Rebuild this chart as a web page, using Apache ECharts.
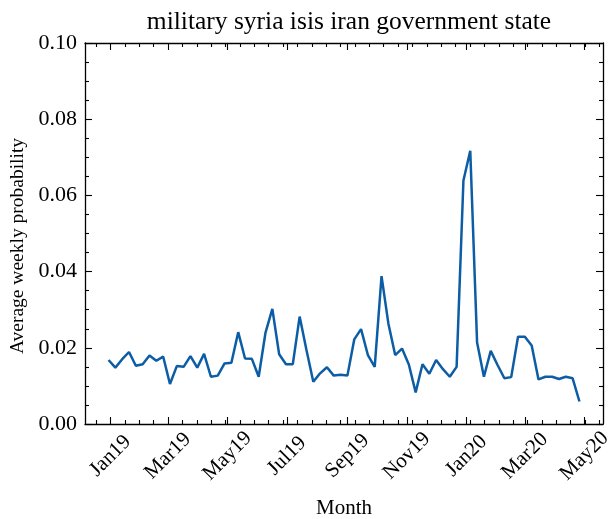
<!DOCTYPE html>
<html>
<head>
<meta charset="utf-8">
<script src="https://cdn.jsdelivr.net/npm/echarts@6/dist/echarts.min.js"></script>
<style>
  html, body { margin: 0; padding: 0; background: #fff; }
  #chart { width: 608px; height: 519px; }
</style>
</head>
<body>
<div id="chart"></div>
<script>
// weekly dates (week start)
var weeks = [
  '2018-12-30','2019-01-06','2019-01-13','2019-01-20','2019-01-27','2019-02-03','2019-02-10','2019-02-17','2019-02-24','2019-03-03',
  '2019-03-10','2019-03-17','2019-03-24','2019-03-31','2019-04-07','2019-04-14','2019-04-21','2019-04-28','2019-05-05','2019-05-12',
  '2019-05-19','2019-05-26','2019-06-02','2019-06-09','2019-06-16','2019-06-23','2019-06-30','2019-07-07','2019-07-14','2019-07-21',
  '2019-07-28','2019-08-04','2019-08-11','2019-08-18','2019-08-25','2019-09-01','2019-09-08','2019-09-15','2019-09-22','2019-09-29',
  '2019-10-06','2019-10-13','2019-10-20','2019-10-27','2019-11-03','2019-11-10','2019-11-17','2019-11-24','2019-12-01','2019-12-08',
  '2019-12-15','2019-12-22','2019-12-29','2020-01-05','2020-01-12','2020-01-19','2020-01-26','2020-02-02','2020-02-09','2020-02-16',
  '2020-02-23','2020-03-01','2020-03-08','2020-03-15','2020-03-22','2020-03-29','2020-04-05','2020-04-12','2020-04-19','2020-04-26'
];
// average weekly probability
var probs = [
  0.0168,0.0148,0.0170,0.0189,0.0153,0.0157,0.0180,0.0166,0.0177,0.0105,
  0.0152,0.0150,0.0178,0.0148,0.0184,0.0124,0.0127,0.0159,0.0161,0.0241,
  0.0172,0.0171,0.0124,0.0240,0.0302,0.0183,0.0157,0.0157,0.0282,0.0194,
  0.0111,0.0133,0.0149,0.0127,0.0129,0.0127,0.0222,0.0249,0.0181,0.0150,
  0.0388,0.0264,0.0181,0.0198,0.0156,0.0083,0.0157,0.0132,0.0168,0.0144,
  0.0124,0.0150,0.0639,0.0717,0.0214,0.0124,0.0192,0.0155,0.0120,0.0123,
  0.0229,0.0229,0.0206,0.0117,0.0124,0.0124,0.0118,0.0124,0.0120,0.0059
];
// major x ticks (month starts) and their labels
var monthTicks = ['2019-01-01','2019-03-01','2019-05-01','2019-07-01','2019-09-01','2019-11-01','2020-01-01','2020-03-01','2020-05-01'];
var monthLabels = ['Jan19','Mar19','May19','Jul19','Sep19','Nov19','Jan20','Mar20','May20'];

function ts(s) { var p = s.split('-'); return Date.UTC(+p[0], +p[1] - 1, +p[2]); }

var first = ts(weeks[0]), last = ts(weeks[weeks.length - 1]);
var pad = (last - first) * 0.05;
var xMin = first - pad, xMax = last + pad;

var majorVals = monthTicks.map(ts);
var labelOf = {};
majorVals.forEach(function (v, i) { labelOf[v] = monthLabels[i]; });

// minor ticks: major step split in 4, counted from first major
var minorStep = (majorVals[1] - majorVals[0]) / 4;
var minorVals = [];
for (var t = majorVals[0] - 10 * minorStep; t <= xMax; t += minorStep) {
  if (t >= xMin && majorVals.indexOf(Math.round(t)) < 0) minorVals.push(t);
}

var lineData = weeks.map(function (w, i) { return [ts(w), probs[i]]; });

var font = 'Liberation Serif';
var axisLine = { show: true, lineStyle: { color: '#000', width: 1.3 } };

function xAx(pos, vals, len, showLabel, main) {
  return {
    type: 'value', position: pos, min: xMin, max: xMax,
    axisLine: main ? axisLine : { show: false },
    splitLine: { show: false },
    axisTick: { show: true, inside: true, length: len, customValues: vals,
      lineStyle: { color: '#000', width: 1.1 } },
    axisLabel: showLabel ? {
      show: true, customValues: vals, rotate: 45, margin: 32,
      align: 'center', verticalAlign: 'middle',
      fontFamily: font, fontSize: 21, color: '#000',
      formatter: function (v) { return labelOf[Math.round(v)] || ''; }
    } : { show: false },
    name: showLabel ? 'Month' : '',
    nameLocation: 'middle', nameGap: 74,
    nameTextStyle: { fontFamily: font, fontSize: 21, color: '#000' }
  };
}

function yAx(pos, showLabel) {
  return {
    type: 'value', position: pos, min: 0, max: 0.1, interval: 0.02,
    axisLine: axisLine,
    splitLine: { show: false },
    axisTick: { show: true, inside: true, length: 7, lineStyle: { color: '#000', width: 1.1 } },
    minorTick: { show: true, splitNumber: 4, length: 4, lineStyle: { color: '#000', width: 1.1 } },
    axisLabel: showLabel ? {
      show: true, margin: 8, fontFamily: font, fontSize: 22, color: '#000',
      formatter: function (v) { return v.toFixed(2); }
    } : { show: false }
  };
}

var chart = echarts.init(document.getElementById('chart'), null, { renderer: 'canvas' });
chart.setOption({
  animation: false,
  backgroundColor: '#fff',
  title: {
    text: 'military syria isis iran government state',
    left: 344, top: 4, textAlign: 'center',
    textStyle: { fontFamily: font, fontSize: 25.5, fontWeight: 'normal', color: '#000' }
  },
  graphic: [{
    type: 'text', x: 18, y: 246, rotation: Math.PI / 2,
    style: { text: 'Average weekly probability', fontFamily: font, fontSize: 19.5,
      fill: '#000', align: 'center', verticalAlign: 'middle' }
  }],
  grid: { left: 85, right: 5, top: 43, bottom: 95, containLabel: false, outerBoundsMode: 'none' },
  xAxis: [
    xAx('bottom', majorVals, 7, true, true),
    xAx('bottom', minorVals, 4, false, false),
    xAx('top', majorVals, 7, false, true),
    xAx('top', minorVals, 4, false, false)
  ],
  yAxis: [yAx('left', true), yAx('right', false)],
  series: [{
    type: 'line',
    xAxisIndex: 0, yAxisIndex: 0,
    data: lineData,
    showSymbol: false,
    lineStyle: { color: '#0C5DA5', width: 2.5 },
    itemStyle: { color: '#0C5DA5' }
  }]
});
</script>
</body>
</html>
